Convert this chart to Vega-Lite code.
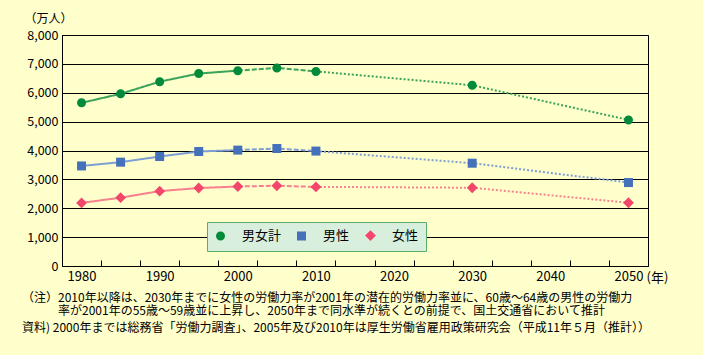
{
  "$schema": "https://vega.github.io/schema/vega-lite/v6.json",
  "width": 586,
  "height": 231,
  "autosize": {"type": "none"},
  "padding": {"left": 62, "top": 35, "right": 55, "bottom": 89},
  "background": "#FFFFCC",
  "config": {
    "font": "Noto Sans CJK JP",
    "view": {"stroke": "#000000", "strokeWidth": 1},
    "axis": {"labelFont": "Noto Sans CJK JP", "labelFontSize": 13, "labelColor": "#000000", "titleFont": "Noto Sans CJK JP", "titleFontSize": 13, "titleFontWeight": "normal", "titleColor": "#000000"}
  },
  "title": {
    "text": ["（注）2010年以降は、2030年までに女性の労働力率が2001年の潜在的労働力率並に、60歳〜64歳の男性の労働力", "\u200b\u3000\u3000\u3000率が2001年の55歳〜59歳並に上昇し、2050年まで同水準が続くとの前提で、国土交通省において推計"],
    "subtitle": "資料) 2000年までは総務省「労働力調査」、2005年及び2010年は厚生労働省雇用政策研究会（平成11年５月（推計））",
    "orient": "bottom",
    "anchor": "start",
    "frame": "group",
    "dx": -40,
    "offset": 9,
    "font": "Noto Sans CJK JP",
    "fontSize": 12,
    "fontWeight": "normal",
    "color": "#000000",
    "lineHeight": 13,
    "subtitleFont": "Noto Sans CJK JP",
    "subtitleFontSize": 12,
    "subtitleColor": "#000000",
    "subtitlePadding": 5
  },
  "datasets": {
    "pts": [
      {"series": "男女計", "year": 1980, "value": 5650},
      {"series": "男女計", "year": 1985, "value": 5963},
      {"series": "男女計", "year": 1990, "value": 6384},
      {"series": "男女計", "year": 1995, "value": 6666},
      {"series": "男女計", "year": 2000, "value": 6766},
      {"series": "男女計", "year": 2005, "value": 6860},
      {"series": "男女計", "year": 2010, "value": 6740},
      {"series": "男女計", "year": 2030, "value": 6260},
      {"series": "男女計", "year": 2050, "value": 5060},
      {"series": "男性", "year": 1980, "value": 3465},
      {"series": "男性", "year": 1985, "value": 3596},
      {"series": "男性", "year": 1990, "value": 3791},
      {"series": "男性", "year": 1995, "value": 3966},
      {"series": "男性", "year": 2000, "value": 4014},
      {"series": "男性", "year": 2005, "value": 4070},
      {"series": "男性", "year": 2010, "value": 3980},
      {"series": "男性", "year": 2030, "value": 3560},
      {"series": "男性", "year": 2050, "value": 2890},
      {"series": "女性", "year": 1980, "value": 2185},
      {"series": "女性", "year": 1985, "value": 2367},
      {"series": "女性", "year": 1990, "value": 2593},
      {"series": "女性", "year": 1995, "value": 2701},
      {"series": "女性", "year": 2000, "value": 2753},
      {"series": "女性", "year": 2005, "value": 2780},
      {"series": "女性", "year": 2010, "value": 2740},
      {"series": "女性", "year": 2030, "value": 2710},
      {"series": "女性", "year": 2050, "value": 2190}
    ],
    "lines": [
      {"series": "男女計", "source": "総務省", "year": 1980, "value": 5650},
      {"series": "男女計", "source": "総務省", "year": 1985, "value": 5963},
      {"series": "男女計", "source": "総務省", "year": 1990, "value": 6384},
      {"series": "男女計", "source": "総務省", "year": 1995, "value": 6666},
      {"series": "男女計", "source": "総務省", "year": 2000, "value": 6766},
      {"series": "男女計", "source": "厚生労働省", "year": 2000, "value": 6766},
      {"series": "男女計", "source": "厚生労働省", "year": 2005, "value": 6860},
      {"series": "男女計", "source": "厚生労働省", "year": 2010, "value": 6740},
      {"series": "男女計", "source": "国土交通省", "year": 2010, "value": 6740},
      {"series": "男女計", "source": "国土交通省", "year": 2030, "value": 6260},
      {"series": "男女計", "source": "国土交通省", "year": 2050, "value": 5060},
      {"series": "男性", "source": "総務省", "year": 1980, "value": 3465},
      {"series": "男性", "source": "総務省", "year": 1985, "value": 3596},
      {"series": "男性", "source": "総務省", "year": 1990, "value": 3791},
      {"series": "男性", "source": "総務省", "year": 1995, "value": 3966},
      {"series": "男性", "source": "総務省", "year": 2000, "value": 4014},
      {"series": "男性", "source": "厚生労働省", "year": 2000, "value": 4014},
      {"series": "男性", "source": "厚生労働省", "year": 2005, "value": 4070},
      {"series": "男性", "source": "厚生労働省", "year": 2010, "value": 3980},
      {"series": "男性", "source": "国土交通省", "year": 2010, "value": 3980},
      {"series": "男性", "source": "国土交通省", "year": 2030, "value": 3560},
      {"series": "男性", "source": "国土交通省", "year": 2050, "value": 2890},
      {"series": "女性", "source": "総務省", "year": 1980, "value": 2185},
      {"series": "女性", "source": "総務省", "year": 1985, "value": 2367},
      {"series": "女性", "source": "総務省", "year": 1990, "value": 2593},
      {"series": "女性", "source": "総務省", "year": 1995, "value": 2701},
      {"series": "女性", "source": "総務省", "year": 2000, "value": 2753},
      {"series": "女性", "source": "厚生労働省", "year": 2000, "value": 2753},
      {"series": "女性", "source": "厚生労働省", "year": 2005, "value": 2780},
      {"series": "女性", "source": "厚生労働省", "year": 2010, "value": 2740},
      {"series": "女性", "source": "国土交通省", "year": 2010, "value": 2740},
      {"series": "女性", "source": "国土交通省", "year": 2030, "value": 2710},
      {"series": "女性", "source": "国土交通省", "year": 2050, "value": 2190}
    ]
  },
  "encoding": {
    "x": {
      "field": "year", "type": "quantitative",
      "scale": {"domain": [1977.5, 2052.5], "nice": false, "zero": false},
      "axis": {"orient": "bottom", "values": [1977.5, 1982.5, 1987.5, 1992.5, 1997.5, 2002.5, 2007.5, 2012.5, 2017.5, 2022.5, 2027.5, 2032.5, 2037.5, 2042.5, 2047.5, 2052.5], "labelExpr": "(datum.value + 2.5) % 10 === 0 && datum.value < 2050 ? format(datum.value + 2.5, 'd') : ''", "labelOffset": 19.5, "labelOverlap": false, "labelBound": false, "labelFlush": false, "domain": false, "grid": false, "ticks": true, "tickSize": 6, "tickColor": "#000000", "tickWidth": 1, "offset": -6, "labelPadding": 4, "title": "(年)", "titleX": 595, "titleY": 17, "titleAlign": "center", "titleBaseline": "middle"}
    },
    "y": {
      "field": "value", "type": "quantitative",
      "scale": {"domain": [0, 8000], "nice": false},
      "axis": {"orient": "left", "values": [0, 1000, 2000, 3000, 4000, 5000, 6000, 7000, 8000], "format": ",d", "grid": true, "gridColor": "#000000", "gridOpacity": 1, "gridWidth": 1, "ticks": false, "domain": true, "domainColor": "#000000", "labelPadding": 4, "labelFontSize": 12.5, "title": "（万人）", "titleAngle": 0, "titleX": -14, "titleY": -17, "titleAlign": "center", "titleBaseline": "middle", "titleFontSize": 12}
    }
  },
  "layer": [
    {
      "data": {"name": "lines"},
      "mark": {"type": "line", "strokeWidth": 2},
      "encoding": {
        "stroke": {"field": "series", "type": "nominal", "scale": {"range": ["#F7808F", "#3AA35A", "#7F9ED6"]}, "legend": null},
        "strokeDash": {"field": "source", "type": "nominal", "scale": {"domain": ["総務省", "厚生労働省", "国土交通省"], "range": [[1, 0], [5, 2], [2, 2]]}, "legend": null}
      }
    },
    {
      "data": {"name": "pts"},
      "mark": {"type": "point", "filled": true, "size": 81, "opacity": 1},
      "encoding": {
        "fill": {
          "field": "series", "type": "nominal",
          "scale": {"domain": ["男女計", "男性", "女性"], "range": ["#008A3A", "#4471B9", "#F2476B"]},
          "legend": {
            "title": null, "orient": "none", "legendX": 145, "legendY": 187, "direction": "horizontal",
            "fillColor": "#D9EFDD", "strokeColor": "#5AAE68", "padding": 7,
            "labelFont": "Noto Sans CJK JP", "labelFontSize": 13, "labelColor": "#000000",
            "symbolSize": 81, "labelOffset": 15, "columnPadding": 12,
            "encode": {"symbols": {
              "enter": {"shape": {"signal": "datum.value === '男女計' ? 'M-2.9,-0.22H2.9V0.22H-2.9Z M-1,0A1,1,0,1,1,1,0A1,1,0,1,1,-1,0Z' : datum.value === '男性' ? 'M-2.9,-0.22H2.9V0.22H-2.9Z M-0.9,-0.9H0.9V0.9H-0.9Z' : 'M-2.9,-0.22H2.9V0.22H-2.9Z M0,-1.1L1.1,0L0,1.1L-1.1,0Z'"}},
              "update": {
                "shape": {"signal": "datum.value === '男女計' ? 'M-2.9,-0.22H2.9V0.22H-2.9Z M-1,0A1,1,0,1,1,1,0A1,1,0,1,1,-1,0Z' : datum.value === '男性' ? 'M-2.9,-0.22H2.9V0.22H-2.9Z M-0.9,-0.9H0.9V0.9H-0.9Z' : 'M-2.9,-0.22H2.9V0.22H-2.9Z M0,-1.1L1.1,0L0,1.1L-1.1,0Z'"},
                "fill": {"scale": "fill", "field": "value"},
                "strokeWidth": {"value": 0}
              }
            }}
          }
        },
        "shape": {
          "field": "series", "type": "nominal",
          "scale": {"domain": ["男女計", "男性", "女性"], "range": ["M-1,0A1,1,0,1,1,1,0A1,1,0,1,1,-1,0Z", "M-1,-1H1V1H-1Z", "M0,-1.2L1.2,0L0,1.2L-1.2,0Z"]},
          "legend": {
            "title": null, "orient": "none", "legendX": 145, "legendY": 187, "direction": "horizontal",
            "fillColor": "#D9EFDD", "strokeColor": "#5AAE68", "padding": 7,
            "labelFont": "Noto Sans CJK JP", "labelFontSize": 13, "labelColor": "#000000",
            "symbolSize": 81, "labelOffset": 15, "columnPadding": 12,
            "encode": {"symbols": {
              "enter": {"shape": {"signal": "datum.value === '男女計' ? 'M-2.9,-0.22H2.9V0.22H-2.9Z M-1,0A1,1,0,1,1,1,0A1,1,0,1,1,-1,0Z' : datum.value === '男性' ? 'M-2.9,-0.22H2.9V0.22H-2.9Z M-0.9,-0.9H0.9V0.9H-0.9Z' : 'M-2.9,-0.22H2.9V0.22H-2.9Z M0,-1.1L1.1,0L0,1.1L-1.1,0Z'"}},
              "update": {
                "shape": {"signal": "datum.value === '男女計' ? 'M-2.9,-0.22H2.9V0.22H-2.9Z M-1,0A1,1,0,1,1,1,0A1,1,0,1,1,-1,0Z' : datum.value === '男性' ? 'M-2.9,-0.22H2.9V0.22H-2.9Z M-0.9,-0.9H0.9V0.9H-0.9Z' : 'M-2.9,-0.22H2.9V0.22H-2.9Z M0,-1.1L1.1,0L0,1.1L-1.1,0Z'"},
                "fill": {"scale": "fill", "field": "value"},
                "strokeWidth": {"value": 0}
              }
            }}
          }
        }
      }
    }
  ]
}
